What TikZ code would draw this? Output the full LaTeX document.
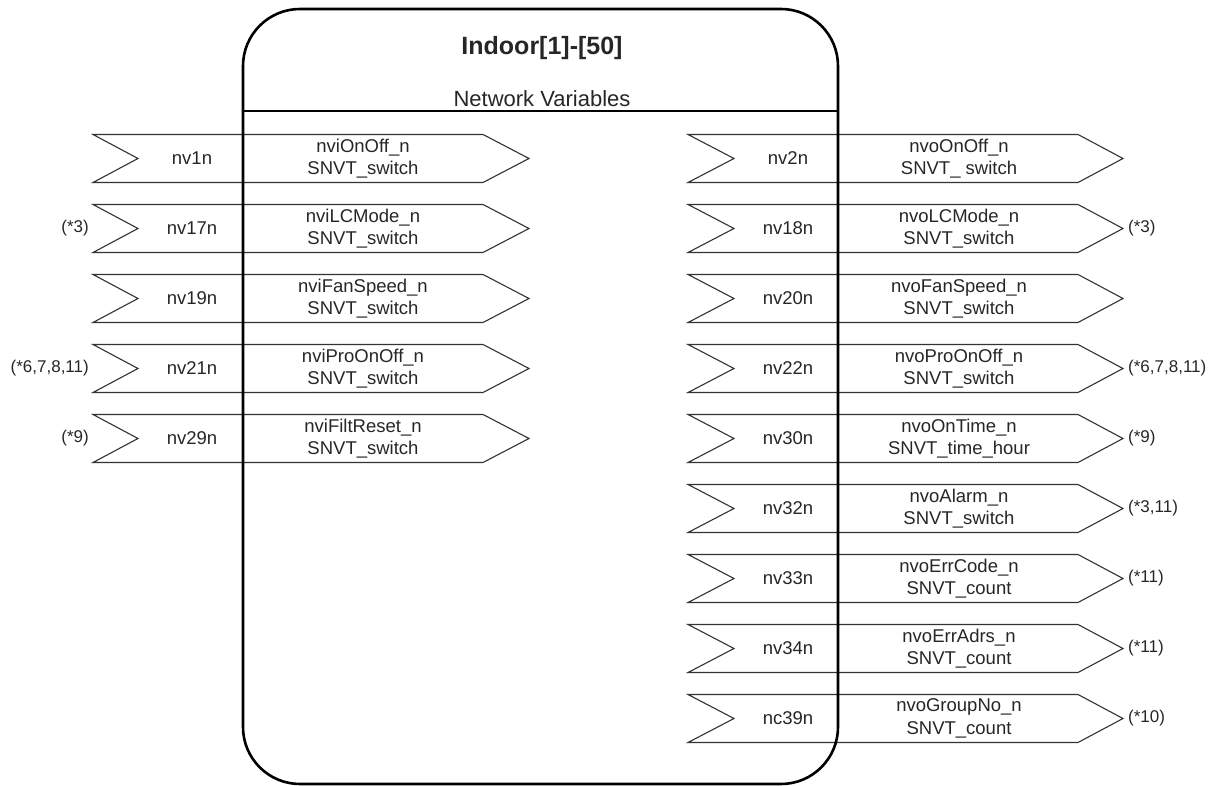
\documentclass[tikz,border=0pt]{standalone}
\usepackage{fontspec}
\setmainfont{Liberation Sans}
\usetikzlibrary{positioning}

\begin{document}
\begin{tikzpicture}[x=1pt, y=-1pt,
    every node/.style={inner sep=0pt, align=center, text=black!85,
      font=\fontsize{18.5}{22.5}\selectfont},
    chevron/.style={draw=black!80, line width=1.1pt},
    note/.style={font=\fontsize{17}{20}\selectfont},
    frame/.style={draw=black, line width=2.6pt, rounded corners=57pt}]
  \useasboundingbox (0,0) rectangle (1216,786);
  % inputs, left column
  \foreach \nv/\na/\nb [count=\i] in {
      nv1n/nviOnOff\_n/SNVT\_switch,
      nv17n/nviLCMode\_n/SNVT\_switch,
      nv19n/nviFanSpeed\_n/SNVT\_switch,
      nv21n/nviProOnOff\_n/SNVT\_switch,
      nv29n/nviFiltReset\_n/SNVT\_switch}{
    \pgfmathsetmacro\y{88.5+70*\i}
    \draw[chevron] (93,\y-24) -- (483,\y-24) -- (529,\y) -- (483,\y+24)
      -- (93,\y+24) -- (138,\y) -- cycle;
    \coordinate (in\i) at (93,\y);
    \node (inv\i) at (192,\y) {\nv};
    \node (ina\i) at (363,\y) {\na\\\nb};
  }
  % outputs, right column
  \foreach \nv/\na/\nb [count=\i] in {
      nv2n/nvoOnOff\_n/SNVT\_ switch,
      nv18n/nvoLCMode\_n/SNVT\_switch,
      nv20n/nvoFanSpeed\_n/SNVT\_switch,
      nv22n/nvoProOnOff\_n/SNVT\_switch,
      nv30n/nvoOnTime\_n/SNVT\_time\_hour,
      nv32n/nvoAlarm\_n/SNVT\_switch,
      nv33n/nvoErrCode\_n/SNVT\_count,
      nv34n/nvoErrAdrs\_n/SNVT\_count,
      nc39n/nvoGroupNo\_n/SNVT\_count}{
    \pgfmathsetmacro\y{88.5+70*\i}
    \draw[chevron] (688,\y-24) -- (1078,\y-24) -- (1123,\y) -- (1078,\y+24)
      -- (688,\y+24) -- (734,\y) -- cycle;
    \coordinate (out\i) at (1123,\y);
    \node (onv\i) at (788,\y) {\nv};
    \node (ona\i) at (959,\y) {\na\\\nb};
  }
  % notes
  \foreach \i/\t in {2/(*3), 4/{(*6,7,8,11)}, 5/(*9)}
    \node[note, left=4pt of in\i] (inote\i) {\t};
  \foreach \i/\t in {2/(*3), 4/{(*6,7,8,11)}, 5/(*9), 6/{(*3,11)},
      7/(*11), 8/(*11), 9/(*10)}
    \node[note, right=5pt of out\i] (onote\i) {\t};
  % device block
  \draw[frame] (243,9) rectangle (838,784);
  \draw[line width=1.3pt] (243,111) -- (838,111);
  \node[font=\bfseries\fontsize{25}{30}\selectfont] (title) at (542,48)
    {Indoor[1]-[50]};
  \node[font=\fontsize{22}{26}\selectfont] (sub) at (542,99) {Network Variables};
\end{tikzpicture}
\end{document}
